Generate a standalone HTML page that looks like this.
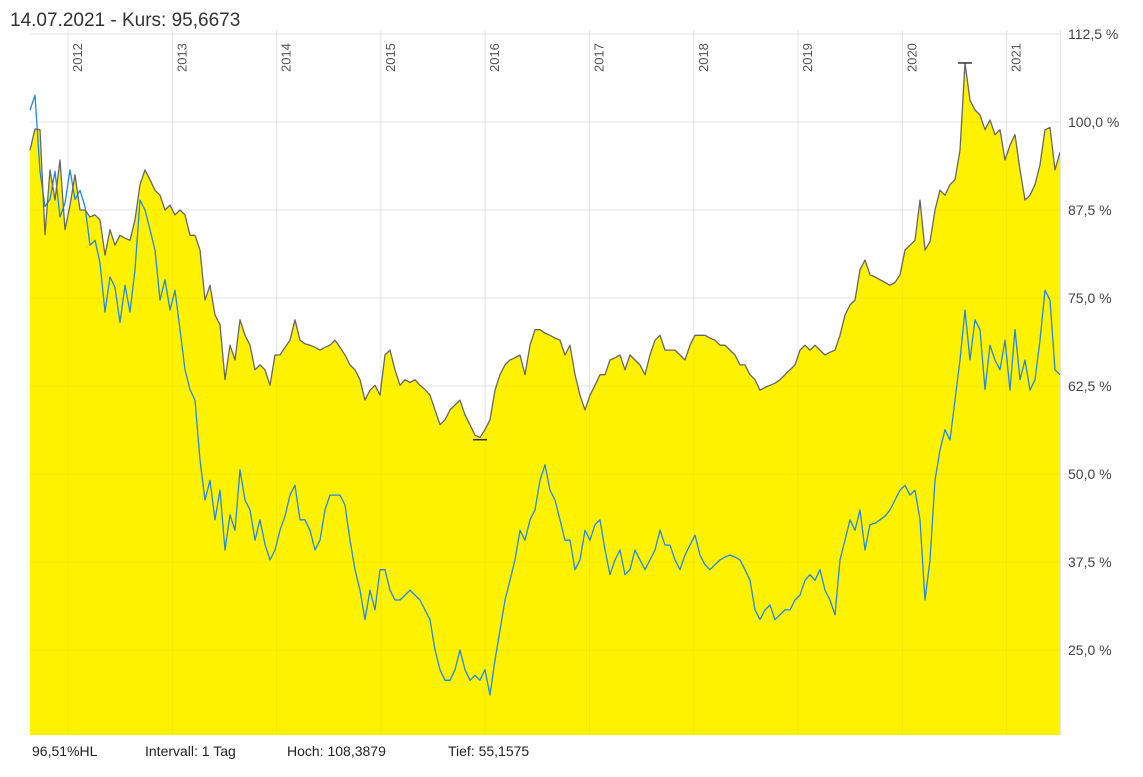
<!DOCTYPE html>
<html><head><meta charset="utf-8"><style>
html,body{margin:0;padding:0;background:#fff;}
svg text{font-family:"Liberation Sans",sans-serif;}
</style></head><body>
<svg id="chart" width="1143" height="772" viewBox="0 0 1143 772" xmlns="http://www.w3.org/2000/svg">
<text x="10" y="26" font-size="19" fill="#333">14.07.2021  -  Kurs: 95,6673</text>
<g id="plot"></g>
<g font-size="14" fill="#222">
<text x="32" y="756">96,51%HL</text>
<text x="145" y="756">Intervall: 1 Tag</text>
<text x="287" y="756">Hoch: 108,3879</text>
<text x="448" y="756">Tief: 55,1575</text>
</g>
</svg>
<script>
const startYear = 2011.636;
const stepYears = 0.04794;
const yearTicks = [2012,2013,2014,2015,2016,2017,2018,2019,2020,2021];
const valueTicks = [25,37.5,50,62.5,75,87.5,100,112.5];
const valueTickLabels = ["25,0 %","37,5 %","50,0 %","62,5 %","75,0 %","87,5 %","100,0 %","112,5 %"];
const highValue = 108.3879;
const lowValue = 55.1575;
const priceSeries = [96.0,99.0,98.9,84.0,93.2,88.9,94.6,84.7,88.2,92.5,87.5,87.5,86.5,86.8,86.1,81.1,84.7,82.5,83.9,83.5,83.2,86.1,91.1,93.2,91.8,90.3,89.6,87.5,88.2,86.8,87.5,86.8,83.9,83.9,81.8,74.7,76.8,72.6,71.2,63.4,68.3,66.2,71.9,69.7,68.3,64.8,65.5,64.8,62.6,66.9,66.9,68.0,69.0,71.9,69.0,68.5,68.3,68.0,67.6,68.0,68.3,69.0,68.0,66.9,65.5,64.8,63.4,60.5,61.9,62.6,61.2,66.9,67.6,64.8,62.6,63.4,63.0,63.4,62.6,62.0,61.2,59.1,57.0,57.7,59.1,59.8,60.5,58.4,57.0,55.5,55.2,56.3,57.7,61.9,64.1,65.5,66.2,66.5,66.9,64.1,68.3,70.5,70.5,70.0,69.7,69.3,69.0,66.9,68.3,64.1,61.2,59.1,61.2,62.6,64.1,64.1,66.2,66.5,66.9,64.8,66.9,66.2,65.5,64.1,66.9,69.0,69.7,67.6,67.6,67.6,66.9,66.2,68.3,69.7,69.7,69.7,69.3,69.0,68.3,68.3,67.6,66.9,65.5,65.5,64.1,63.4,61.9,62.3,62.6,62.9,63.4,64.1,64.8,65.5,67.6,68.3,67.6,68.3,67.6,66.9,67.3,67.6,69.7,72.6,74.0,74.7,79.0,80.4,78.3,78.0,77.6,77.2,76.8,77.2,78.3,81.8,82.5,83.2,88.9,81.8,83.0,87.5,90.3,89.6,91.1,91.8,96.0,108.4,103.1,101.7,101.0,98.9,100.3,98.2,98.9,94.6,96.7,98.2,93.2,88.9,89.6,91.1,93.9,98.9,99.2,93.2,95.7];
const compareSeries = [101.7,103.8,93.0,88.0,89.0,93.0,86.5,88.5,93.2,89.0,90.3,88.0,82.5,83.2,80.0,73.0,78.0,76.5,71.5,76.8,73.0,79.0,88.9,87.5,84.7,81.8,74.7,77.6,73.3,76.1,70.5,64.8,62.0,60.5,52.0,46.3,49.1,43.5,47.7,39.2,44.2,42.0,50.6,46.3,44.9,40.6,43.5,40.0,37.8,39.2,42.0,44.0,47.0,48.4,43.5,43.5,42.0,39.2,40.6,44.9,47.0,47.0,47.0,45.6,40.6,36.4,33.5,29.3,33.5,30.7,36.4,36.4,33.5,32.1,32.1,32.8,33.5,32.8,32.1,30.7,29.3,25.0,22.2,20.7,20.7,22.2,25.0,22.2,20.7,21.4,20.7,22.2,18.6,23.6,27.8,32.1,34.9,37.8,42.0,40.6,43.5,44.9,49.1,51.3,47.7,46.3,43.5,40.6,40.6,36.4,37.8,42.0,40.6,42.8,43.5,39.2,35.7,37.8,39.2,35.7,36.4,39.2,37.8,36.4,37.8,39.2,42.0,39.9,39.9,37.8,36.4,38.5,39.9,41.3,38.5,37.1,36.4,37.1,37.8,38.2,38.5,38.2,37.8,36.4,34.9,30.7,29.3,30.7,31.4,29.3,30.0,30.7,30.7,32.1,32.8,34.9,35.7,34.9,36.4,33.5,32.1,30.0,37.8,40.6,43.5,42.0,44.9,39.2,42.8,43.0,43.5,44.0,44.9,46.3,47.7,48.4,47.0,47.7,43.5,32.1,37.8,49.1,53.4,56.3,54.8,60.5,66.2,73.3,66.2,71.9,70.5,62.0,68.3,66.2,64.8,69.0,61.9,70.5,63.4,66.2,61.9,63.4,69.0,76.1,74.7,64.8,64.1];

const L=30,R=1060,T=30,B=735;
function xScale(t){return L+(t-startYear)*104.3;}
function yScale(v){return 122+(100-v)*7.04;}
function tAt(i){return startYear+i*stepYears;}
const NS="http://www.w3.org/2000/svg";
const plot=document.getElementById('plot');
function mk(tag,attrs,parent){const e=document.createElementNS(NS,tag);for(const k in attrs)e.setAttribute(k,attrs[k]);(parent||plot).appendChild(e);return e;}

// grid
valueTicks.forEach(v=>{
  const g=mk('line',{x1:L,x2:R,y1:yScale(v),y2:yScale(v),stroke:'#ececec','stroke-width':1});
  
  
});
yearTicks.forEach(yr=>{
  const g=mk('line',{x1:xScale(yr),x2:xScale(yr),y1:T,y2:B,stroke:'#ececec','stroke-width':1});
  
  
});

// area
let d='M'+xScale(tAt(0))+','+B;
priceSeries.forEach((v,i)=>{d+=' L'+xScale(tAt(i)).toFixed(1)+','+yScale(v).toFixed(1);});
d+=' L'+xScale(tAt(priceSeries.length-1)).toFixed(1)+','+B+' Z';
const area=mk('path',{d:d,fill:'#fff200'});



// grid over fill (faint)
valueTicks.forEach(v=>{
  const g=mk('line',{x1:L,x2:R,y1:yScale(v),y2:yScale(v),stroke:'rgba(0,0,0,0.04)','stroke-width':1});
  
  
});
yearTicks.forEach(yr=>{
  const g=mk('line',{x1:xScale(yr),x2:xScale(yr),y1:T,y2:B,stroke:'rgba(0,0,0,0.04)','stroke-width':1});
  
  
});

function linePath(arr){return arr.map((v,i)=>(i?'L':'M')+xScale(tAt(i)).toFixed(1)+','+yScale(v).toFixed(1)).join(' ');}
const cl=mk('path',{d:linePath(compareSeries),fill:'none',stroke:'#1e88e5','stroke-width':1.3,'stroke-linejoin':'round'});


const pl=mk('path',{d:linePath(priceSeries),fill:'none',stroke:'#666','stroke-width':1.3,'stroke-linejoin':'round'});



// high / low markers
let hi=0,lo=0;
priceSeries.forEach((v,i)=>{if(v>priceSeries[hi])hi=i;if(v<priceSeries[lo])lo=i;});
const hm=mk('line',{x1:xScale(tAt(hi))-7,x2:xScale(tAt(hi))+7,y1:yScale(highValue),y2:yScale(highValue),stroke:'#333','stroke-width':1.5});


const lm=mk('line',{x1:xScale(tAt(lo))-7,x2:xScale(tAt(lo))+7,y1:yScale(lowValue)+2,y2:yScale(lowValue)+2,stroke:'#333','stroke-width':1.5});



// right border
const rb=mk('line',{x1:R+0.5,x2:R+0.5,y1:T,y2:B,stroke:'#e6e6e6','stroke-width':1});



// y labels
valueTicks.forEach((v,i)=>{
  const t=mk('text',{x:1068,y:yScale(v)+5,'font-size':14,fill:'#444'});
  t.textContent=valueTickLabels[i];
  
  
});
// year labels
yearTicks.forEach(yr=>{
  const x=xScale(yr)+14,y=72;
  const t=mk('text',{x:x,y:y,'font-size':13,fill:'#555',transform:'rotate(-90 '+x+' '+y+')'});
  t.textContent=String(yr);
  
  
});
// clip top label area: white band over top
</script>
</body></html>
